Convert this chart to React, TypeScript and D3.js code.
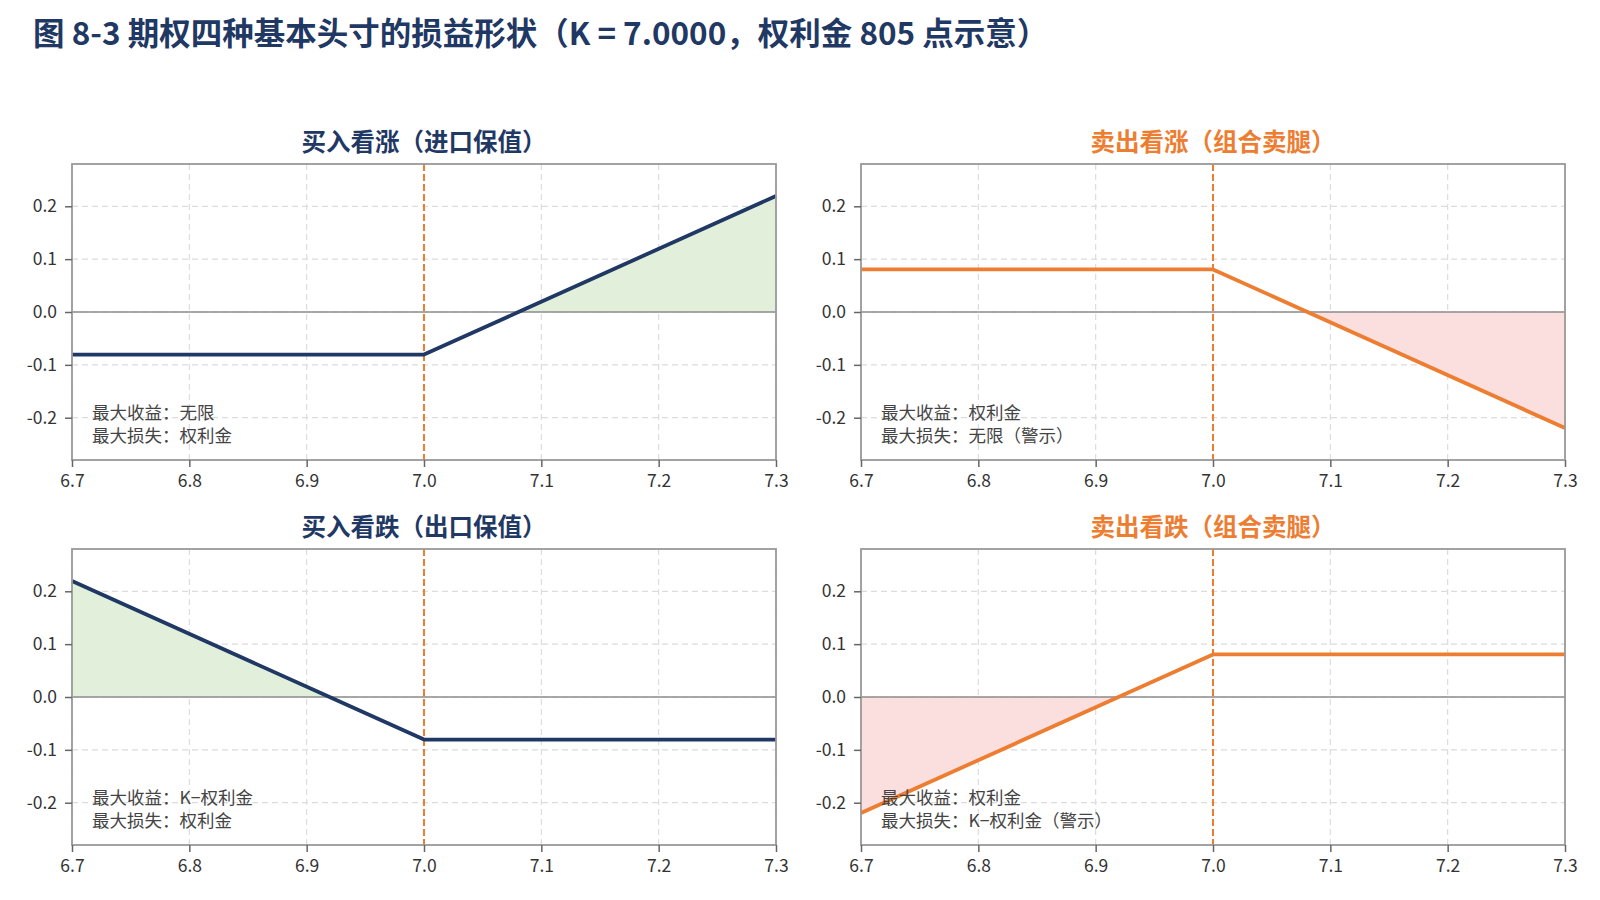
import * as d3 from 'd3';
import { useEffect, useRef } from 'react';

// Data: spot grid (includes strike and break-even points) and payoff per position
const spot = [6.7, 6.9195, 7.0, 7.0805, 7.3];
const longCall = [-0.0805, -0.0805, -0.0805, 0, 0.2195];
const shortCall = [0.0805, 0.0805, 0.0805, 0, -0.2195];
const longPut = [0.2195, 0, -0.0805, -0.0805, -0.0805];
const shortPut = [-0.2195, 0, 0.0805, 0.0805, 0.0805];

const xTicks = [6.7, 6.8, 6.9, 7.0, 7.1, 7.2, 7.3];
const yTicks = [-0.2, -0.1, 0.0, 0.1, 0.2];
const strike = 7.0;

const titles = ['买入看涨（进口保值）', '卖出看涨（组合卖腿）', '买入看跌（出口保值）', '卖出看跌（组合卖腿）'];
const notes = [
    ['最大收益：无限', '最大损失：权利金'],
    ['最大收益：权利金', '最大损失：无限（警示）'],
    ['最大收益：K−权利金', '最大损失：权利金'],
    ['最大收益：权利金', '最大损失：K−权利金（警示）'],
];

const NAVY = '#1f3864';
const ORANGE = '#ed7d31';
const GREEN_FILL = '#e2efda';
const RED_FILL = '#fbdfdf';

const FONT = '"Noto Sans CJK SC", "Noto Sans", sans-serif';

const App = () => {
    const svgRef = useRef<SVGSVGElement>(null);

    useEffect(() => {
        const svg = d3.select(svgRef.current);
        svg.selectAll('*').remove();

        svg.append('text')
            .attr('x', 33)
            .attr('y', 45)
            .attr('fill', NAVY)
            .style('font-family', FONT)
            .style('font-size', '31.5px')
            .style('font-weight', 'bold')
            .text('图 8-3 期权四种基本头寸的损益形状（K = 7.0000，权利金 805 点示意）');

        const panels = [
            { x: 72, y: 164, series: longCall, color: NAVY, fill: GREEN_FILL, gain: true },
            { x: 861, y: 164, series: shortCall, color: ORANGE, fill: RED_FILL, gain: false },
            { x: 72, y: 549, series: longPut, color: NAVY, fill: GREEN_FILL, gain: true },
            { x: 861, y: 549, series: shortPut, color: ORANGE, fill: RED_FILL, gain: false },
        ];
        const w = 704;
        const h = 296;

        const xScale = d3.scaleLinear().domain([6.7, 7.3]).range([0, w]);
        const yScale = d3.scaleLinear().domain([-0.28, 0.28]).range([h, 0]);

        panels.forEach((p, i) => {
            const g = svg.append('g').attr('transform', `translate(${p.x},${p.y})`);
            const pts = spot.map((s, j) => ({ s, v: p.series[j] }));

            // grid
            g.selectAll('.gx').data(xTicks).enter().append('line')
                .attr('x1', d => xScale(d)).attr('x2', d => xScale(d))
                .attr('y1', 0).attr('y2', h)
                .attr('stroke', '#dcdcdc').attr('stroke-width', 1.2).attr('stroke-dasharray', '6,4');
            g.selectAll('.gy').data(yTicks).enter().append('line')
                .attr('x1', 0).attr('x2', w)
                .attr('y1', d => yScale(d)).attr('y2', d => yScale(d))
                .attr('stroke', '#dcdcdc').attr('stroke-width', 1.2).attr('stroke-dasharray', '6,4');

            // fill region
            const area = d3.area<{ s: number; v: number }>()
                .x(d => xScale(d.s))
                .y0(yScale(0))
                .y1(d => yScale(p.gain ? Math.max(d.v, 0) : Math.min(d.v, 0)));
            g.append('path').datum(pts).attr('d', area).attr('fill', p.fill);

            // zero line
            g.append('line')
                .attr('x1', 0).attr('x2', w)
                .attr('y1', yScale(0)).attr('y2', yScale(0))
                .attr('stroke', '#8c8c8c').attr('stroke-width', 1.5);

            // strike line
            g.append('line')
                .attr('x1', xScale(strike)).attr('x2', xScale(strike))
                .attr('y1', 0).attr('y2', h)
                .attr('stroke', ORANGE).attr('stroke-width', 2)
                .attr('stroke-dasharray', '7,3');

            // payoff line
            const line = d3.line<{ s: number; v: number }>()
                .x(d => xScale(d.s))
                .y(d => yScale(d.v));
            g.append('path').datum(pts).attr('d', line)
                .attr('fill', 'none').attr('stroke', p.color).attr('stroke-width', 3.8)
                .attr('stroke-linejoin', 'round');

            // spines
            g.append('rect').attr('width', w).attr('height', h)
                .attr('fill', 'none').attr('stroke', '#999').attr('stroke-width', 1.8);

            // axes
            const xAxis = g.append('g').attr('transform', `translate(0,${h})`)
                .call(d3.axisBottom(xScale).tickValues(xTicks).tickFormat(d3.format('.1f')).tickSize(7).tickPadding(8));
            const yAxis = g.append('g')
                .call(d3.axisLeft(yScale).tickValues(yTicks).tickFormat(d => d3.format('.1f')(d as number).replace('−', '-')).tickSize(7).tickPadding(8));
            [xAxis, yAxis].forEach(a => {
                a.select('.domain').remove();
                a.selectAll('line').attr('stroke', '#666').attr('stroke-width', 1.5);
                a.selectAll('text').attr('fill', '#333').style('font-size', '17.5px').style('font-family', FONT);
            });

            // title
            svg.append('text')
                .attr('x', p.x + w / 2)
                .attr('y', p.y - 13)
                .attr('text-anchor', 'middle')
                .attr('fill', p.color)
                .style('font-family', FONT)
                .style('font-size', '24.5px')
                .style('font-weight', 'bold')
                .text(titles[i]);

            // notes
            notes[i].forEach((t, k) => {
                g.append('text')
                    .attr('x', 20)
                    .attr('y', 255 + k * 22.5)
                    .attr('fill', '#444')
                    .style('font-family', FONT)
                    .style('font-size', '17.5px')
                    .text(t);
            });
        });
    }, []);

    return (
        <svg ref={svgRef} width={1600} height={900}
            style={{ position: 'absolute', left: 0, top: 0, background: '#fff' }} />
    );
};

export default App;
